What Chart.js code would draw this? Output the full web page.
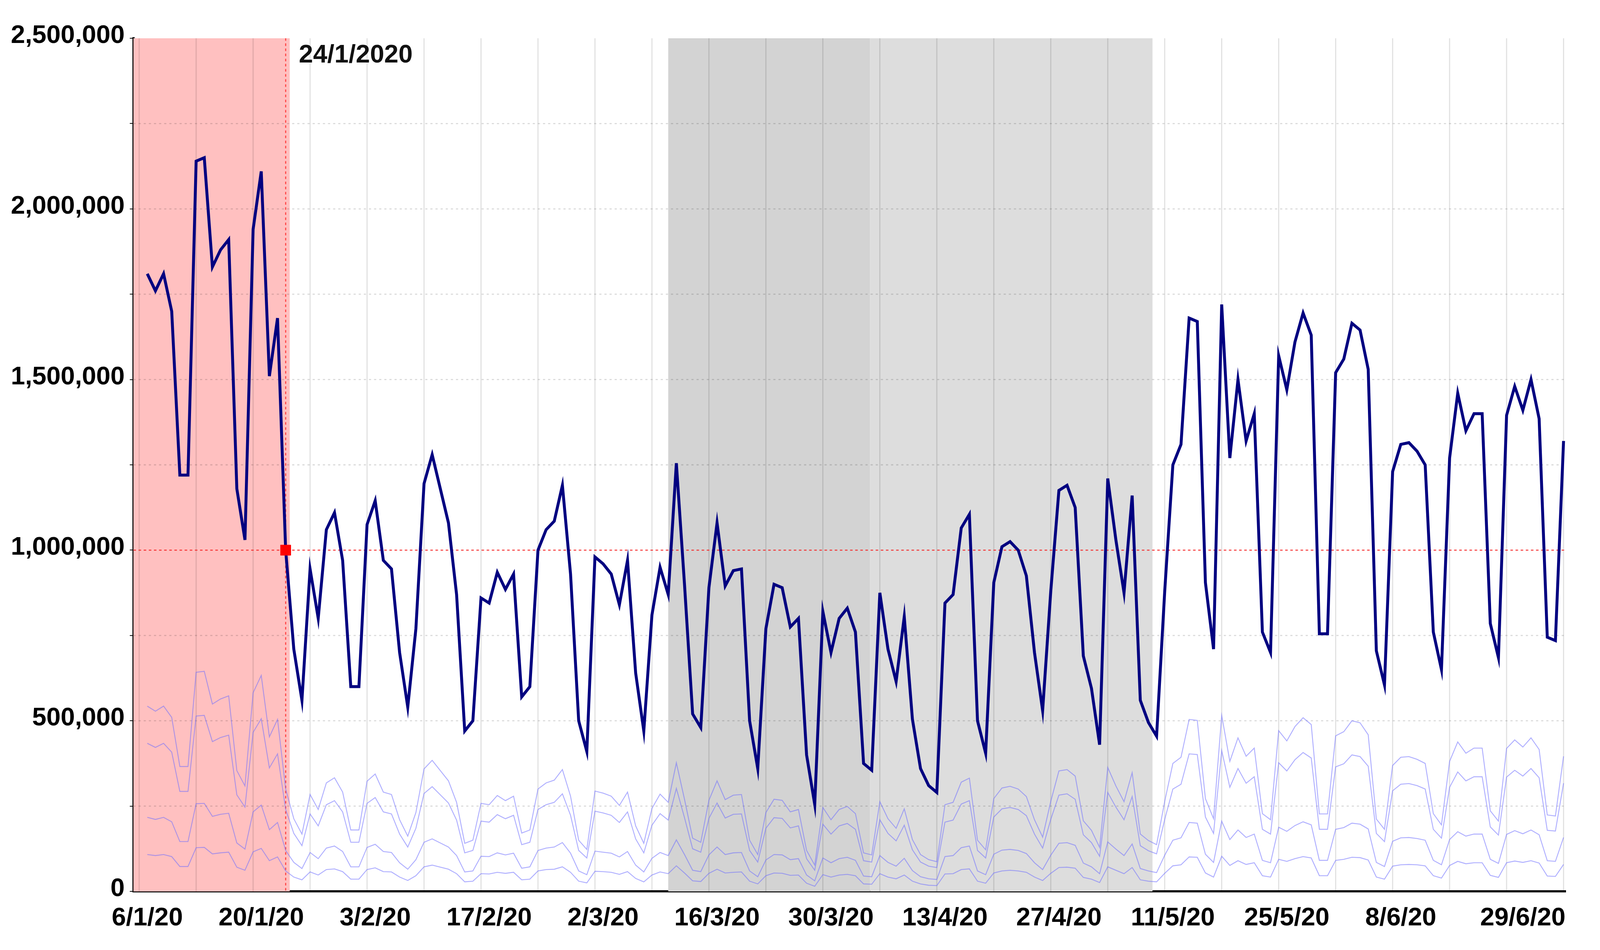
<!DOCTYPE html>
<html>
<head>
<meta charset="utf-8">
<script src="https://cdn.jsdelivr.net/npm/chart.js@4"></script>
<style>
  html, body { margin: 0; padding: 0; background: #fff; overflow: hidden; }
  #wrap { width: 100vw; height: 100vh; position: relative; }
  canvas { display: block; }
</style>
</head>
<body>
<div id="wrap"><canvas id="chart"></canvas></div>
<script>
// daily totals from 6/1/20, index 0 = 6/1/20
const total = [
1810000,1760000,1810000,1700000,1220000,1220000,2140000,2150000,1830000,1880000,1910000,1180000,1030000,1940000,2110000,1510000,1680000,1000000,
710000,560000,945000,800000,1060000,1110000,970000,600000,600000,1075000,1145000,970000,945000,700000,540000,770000,1195000,1280000,1180000,1080000,870000,470000,
500000,860000,845000,935000,885000,930000,570000,600000,1000000,1060000,1085000,1190000,930000,500000,410000,980000,960000,930000,840000,970000,640000,470000,
810000,950000,870000,1255000,900000,520000,480000,890000,1080000,895000,940000,945000,500000,360000,770000,900000,890000,775000,800000,400000,255000,820000,
700000,800000,830000,760000,375000,355000,875000,710000,615000,805000,505000,360000,310000,290000,845000,870000,1065000,1105000,500000,405000,905000,1010000,
1025000,1000000,925000,700000,530000,880000,1175000,1190000,1125000,690000,595000,430000,1210000,1030000,875000,1160000,560000,495000,455000,880000,1250000,1310000,
1680000,1670000,905000,710000,1720000,1270000,1500000,1320000,1400000,760000,700000,1570000,1470000,1610000,1695000,1630000,755000,755000,1520000,1560000,1665000,1645000,
1530000,705000,605000,1230000,1310000,1315000,1290000,1250000,760000,650000,1270000,1460000,1350000,1400000,1400000,785000,685000,1395000,1480000,1410000,1500000,1385000,
745000,735000,1320000
]

// component series, thousands
const partA = [543,528,543,510,366,366,642,645,549,564,573,354,309,582,633,453,504,300,
213,168,284,240,318,333,291,180,180,323,344,291,284,210,162,231,359,384,354,324,261,141,150,258,254,281,266,279,171,180,300,318,326,357,279,150,123,294,288,279,252,291,192,141,243,285,261,377,270,156,144,267,324,269,282,284,150,108,231,270,267,233,240,120,77,246,210,240,249,228,113,107,263,213,185,242,152,108,93,87,254,261,320,332,150,122,272,303,308,300,278,210,159,264,353,357,338,207,179,129,363,309,263,348,168,149,137,264,375,393,504,501,272,213,516,381,450,396,420,228,210,471,441,483,509,489,227,227,456,468,500,494,459,212,182,369,393,395,387,375,228,195,381,438,405,420,420,236,206,419,444,423,450,416,224,221,396]
const partB = [434,422,434,408,293,293,514,516,439,451,458,283,247,466,506,362,403,240,
170,134,227,192,254,266,233,144,144,258,275,233,227,168,130,185,287,307,283,259,209,113,120,206,203,225,213,223,137,144,240,254,261,286,223,120,98,235,230,223,202,233,154,113,194,228,209,302,216,125,115,214,259,215,226,227,120,86,185,216,214,186,192,96,62,197,168,192,199,182,90,86,210,170,148,194,122,86,74,70,203,209,256,266,120,98,218,242,246,240,222,168,127,211,282,286,270,166,143,103,290,247,210,278,134,119,110,211,300,314,403,401,218,170,413,305,360,317,336,182,168,377,353,386,407,391,182,182,365,374,400,395,367,170,146,295,314,316,310,300,182,156,305,350,324,336,336,189,165,335,355,338,360,333,179,177,317]
const partC = [217,211,217,204,146,146,257,258,220,226,229,142,124,233,253,181,202,120,
85,67,114,96,127,133,117,72,72,129,138,117,114,84,65,93,144,154,142,130,105,57,60,103,102,113,107,112,68,72,120,127,130,143,112,60,49,118,115,112,101,117,77,57,97,114,105,151,108,62,58,107,130,108,113,114,60,43,92,108,107,93,96,48,31,98,84,96,100,91,45,43,105,85,74,97,61,43,37,35,102,105,128,133,60,49,109,121,123,120,111,84,64,106,141,143,135,83,72,52,145,124,105,139,67,60,55,106,150,157,202,200,109,85,206,152,180,158,168,91,84,188,176,193,204,195,91,91,182,187,200,197,183,85,73,147,157,158,155,150,91,78,152,175,162,168,168,94,82,167,178,169,180,166,90,88,158]
const partD = [108,105,108,102,73,73,128,129,110,113,115,71,62,116,126,90,101,60,
42,34,57,48,64,66,58,36,36,64,69,58,57,42,32,46,72,77,71,65,52,28,30,52,51,56,53,56,34,36,60,64,65,72,56,30,25,59,58,56,50,58,38,28,48,57,52,75,54,31,29,53,65,54,56,57,30,22,46,54,53,47,48,24,15,49,42,48,50,46,22,21,52,42,37,48,30,22,18,17,51,52,64,66,30,24,54,60,62,60,56,42,32,53,70,71,68,41,36,26,72,62,52,70,34,30,28,53,75,78,101,100,54,42,103,76,90,79,84,46,42,94,88,96,102,98,46,46,91,94,100,99,92,42,36,74,78,79,78,75,46,39,76,88,81,84,84,47,41,84,89,85,90,83,45,44,79]

const tickDays = [0, 14, 28, 42, 56, 70, 84, 98, 112, 126, 140, 154, 169]
const tickLabels = ['6/1/20', '20/1/20', '3/2/20', '17/2/20', '2/3/20', '16/3/20', '30/3/20', '13/4/20', '27/4/20', '11/5/20', '25/5/20', '8/6/20', '29/6/20']

const markerDay = 17
const markerValue = 1000000
const markerText = '24/1/2020'

// shaded periods, in day index
const bands = [
    { from: -1.7, to: 17.5, color: 'rgb(255,192,192)' },
    { from: 64, to: 88.8, color: 'rgb(211,211,211)' },
    { from: 88.8, to: 123.5, color: 'rgb(221,221,221)' }
]

// sizes were taken at 4376 px wide, scale to the actual window
const k = window.innerWidth / 4376
const kh = window.innerHeight / 2432
const font = { family: 'Liberation Sans, Arial', size: 70 * k, weight: 'bold' }

function points(arr, mult) {
    return arr.map((v, i) => ({ x: i, y: v * mult }))
}

const backdrop = {
    id: 'backdrop',
    beforeDatasetsDraw(chart) {
        const { ctx, chartArea, scales } = chart
        ctx.save()
        bands.forEach(b => {
            const x0 = Math.max(scales.x.getPixelForValue(b.from), chartArea.left)
            const x1 = scales.x.getPixelForValue(b.to)
            ctx.fillStyle = b.color
            ctx.fillRect(x0, chartArea.top, x1 - x0, chartArea.bottom - chartArea.top)
        })
        ctx.strokeStyle = 'rgba(0,0,0,0.12)'
        ctx.lineWidth = 3 * k
        for (let d = -1; d <= 175; d += 7) {
            const x = scales.x.getPixelForValue(d)
            if (x < chartArea.left || x > chartArea.right) continue
            ctx.beginPath()
            ctx.moveTo(x, chartArea.top)
            ctx.lineTo(x, chartArea.bottom)
            ctx.stroke()
        }
        ctx.strokeStyle = 'rgba(0,0,0,0.15)'
        ctx.setLineDash([6 * k, 8 * k])
        for (let v = 250000; v < 2500000; v += 250000) {
            const y = scales.y.getPixelForValue(v)
            ctx.beginPath()
            ctx.moveTo(chartArea.left, y)
            ctx.lineTo(chartArea.right, y)
            ctx.stroke()
        }
        const mx = scales.x.getPixelForValue(markerDay)
        const my = scales.y.getPixelForValue(markerValue)
        ctx.strokeStyle = 'rgba(255,40,40,0.8)'
        ctx.lineWidth = 3 * k
        ctx.setLineDash([7 * k, 7 * k])
        ctx.beginPath()
        ctx.moveTo(chartArea.left, my)
        ctx.lineTo(chartArea.right, my)
        ctx.moveTo(mx, chartArea.top)
        ctx.lineTo(mx, chartArea.bottom)
        ctx.stroke()
        ctx.setLineDash([])
        ctx.fillStyle = '#111'
        ctx.font = `bold ${70 * k}px Liberation Sans, Arial`
        ctx.textBaseline = 'middle'
        ctx.fillText(markerText, mx + 36 * k, chartArea.top + 44 * kh)
        ctx.restore()
    }
}

const light = 'rgba(110,110,255,0.55)'
const lightSets = [partA, partB, partC, partD].map(p => ({
    data: points(p, 1000),
    borderColor: light,
    borderWidth: 2.5 * k,
    pointRadius: 0,
    tension: 0
}))

new Chart(document.getElementById('chart'), {
    type: 'line',
    data: {
        datasets: [
            {
                data: [{ x: markerDay, y: markerValue }],
                pointStyle: 'rect',
                pointRadius: 20 * k,
                backgroundColor: 'red',
                borderColor: 'red',
                showLine: false
            },
            {
                data: points(total, 1),
                borderColor: '#000080',
                borderWidth: 8 * k,
                pointRadius: 0,
                tension: 0
            },
            ...lightSets
        ]
    },
    options: {
        responsive: true,
        maintainAspectRatio: false,
        animation: false,
        layout: { padding: { top: 98 * kh, right: 93 * k, left: 0, bottom: 0 } },
        plugins: { legend: { display: false }, tooltip: { enabled: false } },
        scales: {
            x: {
                type: 'linear',
                min: -1.7,
                max: 174.3,
                afterBuildTicks: s => { s.ticks = [] },
                grid: { display: false },
                ticks: { display: false },
                border: { color: '#000', width: 6 * k },
                afterFit: s => { s.height = 0 }
            },
            xl: {
                type: 'linear',
                position: 'bottom',
                min: -1.7,
                max: 174.3,
                afterBuildTicks: s => { s.ticks = tickDays.map(v => ({ value: v })) },
                grid: { display: false, drawTicks: false },
                border: { display: false },
                ticks: {
                    autoSkip: false,
                    maxRotation: 0,
                    padding: 30 * kh,
                    color: '#000',
                    font: font,
                    callback: (v) => tickLabels[tickDays.indexOf(v)]
                },
                afterFit: s => { s.height = 150 * kh }
            },
            y: {
                min: 0,
                max: 2500000,
                ticks: {
                    stepSize: 250000,
                    color: '#000',
                    font: font,
                    padding: 14 * k,
                    labelOffset: -6 * kh,
                    callback: v => v % 500000 === 0 ? v.toLocaleString('en-US') : ''
                },
                grid: {
                    drawOnChartArea: false,
                    tickLength: 10 * k,
                    tickColor: '#000',
                    lineWidth: 2 * k
                },
                border: { color: '#000', width: 6 * k },
                afterFit: s => { s.width = 365 * k }
            }
        }
    },
    plugins: [backdrop]
})
</script>
</body>
</html>
